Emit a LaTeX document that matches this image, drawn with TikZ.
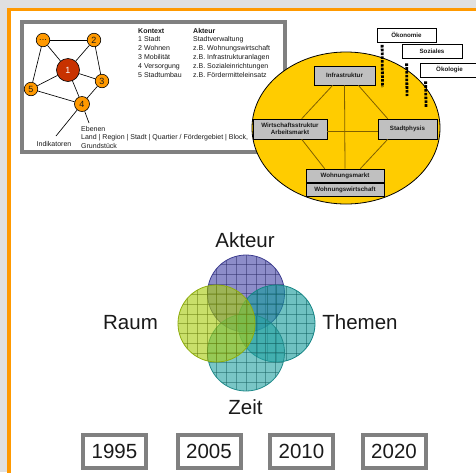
\documentclass[tikz,border=0pt]{standalone}
\usepackage{fontspec}
\setmainfont{Liberation Sans}
\usetikzlibrary{calc}
\definecolor{bgc}{HTML}{E0E0E0}
\definecolor{orng}{HTML}{FF9900}
\definecolor{framec}{HTML}{808080}
\definecolor{dred}{HTML}{C83200}
\definecolor{yel}{HTML}{FFCC00}
\definecolor{boxg}{HTML}{C0C0C0}
\definecolor{olivec}{HTML}{806000}
\definecolor{aktc}{HTML}{4848A8}
\definecolor{rauc}{HTML}{A8CC10}
\definecolor{thec}{HTML}{189C9C}
\definecolor{zeic}{HTML}{28A4A4}
\definecolor{txt}{HTML}{1A1A1A}
\begin{document}
\begin{tikzpicture}[x=1pt,y=-1pt,
  gnode/.style={circle, draw=black, line width=0.6pt, fill=orng, inner sep=0pt, minimum size=13.5pt, text=txt, font=\fontsize{9}{10}\selectfont},
  gline/.style={black, line width=0.65pt},
  small/.style={inner sep=0pt, text=txt, font=\fontsize{7}{8}\selectfont},
  smallb/.style={small, font=\bfseries\fontsize{7}{8}\selectfont},
  ibox/.style={draw=black, line width=0.6pt, fill=boxg, font=\bfseries\fontsize{6.2}{7.4}\selectfont, align=center, inner sep=0pt, text=txt},
  oline/.style={olivec, line width=0.8pt},
  tbox/.style={draw=black, line width=0.8pt, fill=white, font=\bfseries\fontsize{6.2}{7}\selectfont, inner sep=0pt, minimum height=14pt, text=txt},
  dotl/.style={black, line width=2.8pt, dash pattern=on 2.6pt off 1.2pt},
  vgrid/.style={#1!60!black, opacity=0.5, line width=0.4pt},
  vcirc/.style={circle, minimum size=77pt, inner sep=0pt, line width=0.8pt, draw=#1!85!black, fill=#1, fill opacity=0.62,
    path picture={\foreach \k in {-4,...,4}{
      \draw[vgrid=#1] ([xshift=\k*9.8pt]path picture bounding box.north) -- ([xshift=\k*9.8pt]path picture bounding box.south);
      \draw[vgrid=#1] ([yshift=\k*9.8pt]path picture bounding box.west) -- ([yshift=\k*9.8pt]path picture bounding box.east);}}},
  vlabel/.style={inner sep=0pt, text=txt, font=\fontsize{20.5}{24}\selectfont},
  ybox/.style={draw=framec, line width=4pt, fill=white, minimum width=63pt, minimum height=33pt, inner sep=0pt, text=txt, font=\fontsize{20.5}{24}\selectfont}
]
\useasboundingbox (0,0) rectangle (476,472);
\clip (0,0) rectangle (476,472);
\fill[bgc] (0,0) rectangle (476,472);
\draw[orng, line width=3.5pt, fill=white] (9,9.5) rectangle (490,490);

% left framed diagram
\draw[framec, line width=4pt, fill=white] (22,22) rectangle (285,152);

\node[gnode] (ndots) at (43,40) {...};
\node[gnode] (n2) at (94,40) {2};
\node[gnode, fill=dred, minimum size=23pt, text=white] (n1) at (68,70) {1};
\node[gnode] (n3) at (102,81) {3};
\node[gnode] (n5) at (31,89) {5};
\node[gnode, minimum size=15pt] (n4) at (82,104) {4};
\coordinate (indend) at (56,136);
\coordinate (ebend) at (89,123);
\draw[gline] (ndots) -- (n2);
\draw[gline] (ndots) -- (n1);
\draw[gline] (ndots) -- (n5);
\draw[gline] (n2) -- (n1);
\draw[gline] (n2) -- (n3);
\draw[gline] (n1) -- (n3);
\draw[gline] (n1) -- (n5);
\draw[gline] (n1) -- (n4);
\draw[gline] (n5) -- (n4);
\draw[gline] (n3) -- (n4);
\draw[gline] (n4) -- (indend);
\draw[gline] (n4) -- (ebend);

\node[small, anchor=base] (indik) at (54,146) {Indikatoren};
\node[small, anchor=base west] (eb1) at (81,131) {Ebenen};
\node[small, anchor=base west] (eb2) at (81,139.7) {Land | Region | Stadt | Quartier / Fördergebiet | Block,};
\node[small, anchor=base west] (eb3) at (81,148.4) {Grundstück};

\node[smallb, anchor=base west] (k0) at (138,33) {Kontext};
\node[small, anchor=base west] (k1) at (138,41.8) {1 Stadt};
\node[small, anchor=base west] (k2) at (138,50.6) {2 Wohnen};
\node[small, anchor=base west] (k3) at (138,59.4) {3 Mobilität};
\node[small, anchor=base west] (k4) at (138,68.2) {4 Versorgung};
\node[small, anchor=base west] (k5) at (138,77) {5 Stadtumbau};
\node[smallb, anchor=base west] (a0) at (193,33) {Akteur};
\node[small, anchor=base west] (a1) at (193,41.8) {Stadtverwaltung};
\node[small, anchor=base west] (a2) at (193,50.6) {z.B. Wohnungswirtschaft};
\node[small, anchor=base west] (a3) at (193,59.4) {z.B. Infrastrukturanlagen};
\node[small, anchor=base west] (a4) at (193,68.2) {z.B. Sozialeinrichtungen};
\node[small, anchor=base west] (a5) at (193,77) {z.B. Fördermitteleinsatz};

% ellipse diagram
\draw[fill=yel, line width=0.8pt] (346,128) ellipse [x radius=94pt, y radius=76pt];
\node[ibox, minimum width=61pt, minimum height=19pt] (infra) at (344.5,75.5) {Infrastruktur};
\node[ibox, minimum width=74pt, minimum height=20pt] (wirt) at (290,129) {Wirtschaftsstruktur\\Arbeitsmarkt};
\node[ibox, minimum width=59pt, minimum height=20pt] (stadt) at (407.5,129) {Stadtphysis};
\node[ibox, minimum width=78pt, minimum height=13pt] (wmarkt) at (345,175.5) {Wohnungsmarkt};
\node[ibox, minimum width=78pt, minimum height=13pt] (wwirt) at (345,189.5) {Wohnungswirtschaft};
\draw[oline] ([xshift=19pt]infra.south west) -- ([xshift=49pt]wirt.north west);
\draw[oline] ([xshift=-17pt]infra.south east) -- ([xshift=10pt]stadt.north west);
\draw[oline] (infra.south) -- (wmarkt.north);
\draw[oline] ([yshift=-2pt]wirt.east) -- ([yshift=-2pt]stadt.west);
\draw[oline] ([xshift=49pt]wirt.south west) -- ([xshift=19pt]wmarkt.north west);
\draw[oline] ([xshift=10pt]stadt.south west) -- ([xshift=-24pt]wmarkt.north east);

\node[tbox, minimum width=59pt] (oeko) at (406.5,35) {Ökonomie};
\node[tbox, minimum width=60pt] (soz) at (432,51) {Soziales};
\node[tbox, minimum width=59pt] (oekol) at (449.5,70) {Ökologie};
\coordinate (d1) at (382.5,87);
\coordinate (d2) at (407,96);
\coordinate (d3) at (426,107);
\draw[dotl] ([xshift=5.5pt,yshift=-2.5pt]oeko.south west) -- (d1);
\draw[dotl] ([xshift=5pt,yshift=-5pt]soz.south west) -- (d2);
\draw[dotl] ([xshift=6pt,yshift=-4pt]oekol.south west) -- (d3);

% Venn diagram
\node[vcirc=aktc] (cakt) at (246,293.5) {};
\node[vcirc=thec] (cthe) at (276.5,323.5) {};
\node[vcirc=zeic] (czei) at (246,352.5) {};
\node[vcirc=rauc] (crau) at (216.5,323.5) {};
\node[vlabel] (lakt) at (245,240) {Akteur};
\node[vlabel] (lrau) at (130.5,323) {Raum};
\node[vlabel] (lthe) at (360,322.5) {Themen};
\node[vlabel] (lzei) at (245.5,407.5) {Zeit};

% year boxes
\node[ybox] (y1) at (114.5,451.5) {1995};
\node[ybox] (y2) at (209,451.5) {2005};
\node[ybox] (y3) at (301.5,451.5) {2010};
\node[ybox] (y4) at (394,451.5) {2020};
\end{tikzpicture}
\end{document}
